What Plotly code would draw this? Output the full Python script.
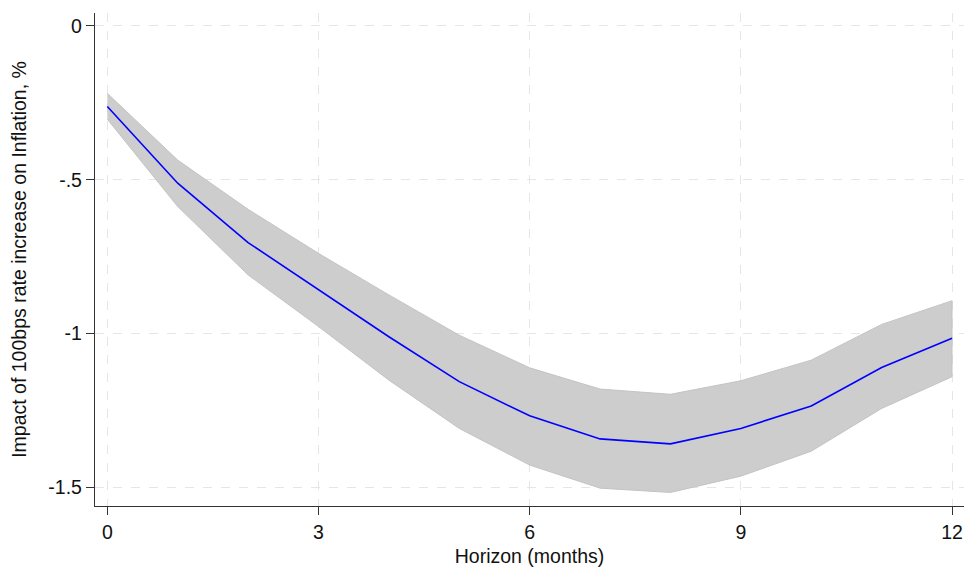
import plotly.graph_objects as go

horizon = [0, 1, 2, 3, 4, 5, 6, 7, 8, 9, 10, 11, 12]
irf = [-0.262, -0.511, -0.704, -0.858, -1.010, -1.156, -1.267, -1.342, -1.358, -1.308, -1.235, -1.110, -1.015]
upper = [-0.219, -0.436, -0.596, -0.739, -0.874, -1.005, -1.111, -1.180, -1.197, -1.153, -1.086, -0.970, -0.893]
lower = [-0.303, -0.587, -0.809, -0.977, -1.151, -1.308, -1.427, -1.502, -1.516, -1.463, -1.382, -1.243, -1.140]

x_ticks = [0, 3, 6, 9, 12]
y_ticks = [0, -0.5, -1, -1.5]
y_tick_text = ["0", "-.5", "-1", "-1.5"]

fig = go.Figure()
fig.add_trace(go.Scatter(x=horizon + horizon[::-1], y=upper + lower[::-1],
                         fill="toself", fillcolor="#cdcdcd",
                         line=dict(color="#c4c4c4", width=1),
                         mode="lines", hoverinfo="skip", showlegend=False))
fig.add_trace(go.Scatter(x=horizon, y=irf, mode="lines",
                         line=dict(color="#0000ff", width=1.6), showlegend=False))

font = "Liberation Sans, Arial, sans-serif"
fig.update_layout(
    width=966, height=568,
    margin=dict(l=95, r=2, t=13, b=62),
    paper_bgcolor="white", plot_bgcolor="white",
    font=dict(family=font, size=19, color="#111111"),
    showlegend=False,
)
fig.update_xaxes(
    range=[-0.175, 12.17], tickvals=x_ticks, ticktext=[str(v) for v in x_ticks],
    showline=True, linecolor="#333333", linewidth=1.3,
    ticks="outside", ticklen=8, tickcolor="#333333", tickwidth=1.3,
    showgrid=True, gridcolor="#e6e6e6", griddash="dash", gridwidth=1,
    zeroline=False, automargin=False,
    title=dict(text="Horizon (months)", font=dict(size=19.5), standoff=7),
    tickfont=dict(size=19.5),
)
fig.update_yaxes(
    range=[-1.56, 0.042], tickvals=y_ticks, ticktext=y_tick_text,
    showline=True, linecolor="#333333", linewidth=1.3,
    ticks="outside", ticklen=8, tickcolor="#333333", tickwidth=1.3,
    showgrid=True, gridcolor="#e6e6e6", griddash="dash", gridwidth=1,
    zeroline=False, automargin=False,
    title=dict(text="Impact of 100bps rate increase on Inflation, %", font=dict(size=19.5), standoff=16),
    tickfont=dict(size=19.5),
)

fig.write_html(
    "out.html",
    config={"displayModeBar": False},
    post_script="document.body.style.margin='0px';document.body.style.overflow='hidden';",
)
